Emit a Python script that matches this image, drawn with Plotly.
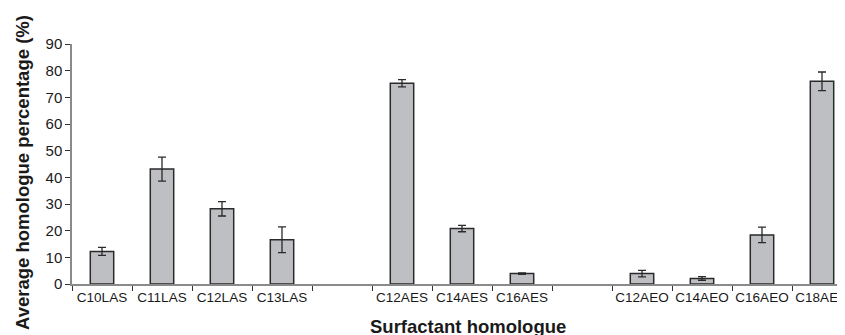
import plotly.graph_objects as go

categories = ["C10LAS", "C11LAS", "C12LAS", "C13LAS", " ",
              "C12AES", "C14AES", "C16AES", "  ",
              "C12AEO", "C14AEO", "C16AEO", "C18AEO"]
values = [12.2, 43.1, 28.2, 16.6, None,
          75.3, 20.8, 3.9, None,
          3.9, 2.1, 18.4, 76.0]
errors = [1.5, 4.5, 2.7, 4.8, None,
          1.35, 1.2, 0.3, None,
          1.2, 0.7, 2.9, 3.5]
y_ticks = [0, 10, 20, 30, 40, 50, 60, 70, 80, 90]
x_title = "Surfactant homologue"
y_title = "Average homologue percentage (%)"

FONT = "Liberation Sans, Arial, sans-serif"
TXT = "#1a1a1a"

# the page body adds an 8px offset; figure pixels = screen pixels - 8
OFF = 8
W, H = 845, 335
L, R, T, B = 72 - OFF, 1, 44 - OFF, H - (284 - OFF)
PW, PH = W - L - R, H - T - B

fig = go.Figure()
fig.add_trace(go.Bar(
    x=categories,
    y=values,
    width=0.39,
    marker=dict(color="#bebfc3", line=dict(color="#2a2a2a", width=1.5)),
    error_y=dict(type="data", array=errors, visible=True,
                 color="#2a2a2a", thickness=1.3, width=4),
    showlegend=False,
))

fig.update_layout(
    width=W, height=H,
    margin=dict(l=L, r=R, t=T, b=B, autoexpand=False),
    paper_bgcolor="white", plot_bgcolor="white",
    font=dict(family=FONT, color=TXT),
)
fig.update_xaxes(
    type="category",
    categoryorder="array", categoryarray=categories,
    range=[-0.5, len(categories) - 0.5],
    tickson="boundaries", tickangle=0,
    ticks="outside", ticklen=5, tickcolor="#333333", tickwidth=1,
    showline=True, linecolor="#8a8a8a", linewidth=1.5,
    showgrid=False, automargin=False,
    tickfont=dict(size=13.5, color=TXT, family=FONT),
)
fig.update_yaxes(
    range=[0, 90],
    tickvals=y_ticks,
    ticks="outside", ticklen=5, tickcolor="#333333", tickwidth=1,
    showline=True, linecolor="#8a8a8a", linewidth=1.5,
    showgrid=False, zeroline=False, automargin=False,
    tickfont=dict(size=15, color=TXT, family=FONT),
)

fig.add_annotation(
    text="<b>" + y_title + "</b>", textangle=-90,
    xref="paper", yref="paper",
    x=(22 - OFF - L) / PW, y=(T + PH - (173 - OFF)) / PH,
    xanchor="center", yanchor="middle", showarrow=False,
    font=dict(size=18.5, color=TXT, family=FONT),
)
fig.add_annotation(
    text="<b>" + x_title + "</b>",
    xref="paper", yref="paper",
    x=(468 - OFF - L) / PW, y=(T + PH - (326 - OFF)) / PH,
    xanchor="center", yanchor="middle", showarrow=False,
    font=dict(size=18.5, color=TXT, family=FONT),
)

fig.write_html("out.html")
